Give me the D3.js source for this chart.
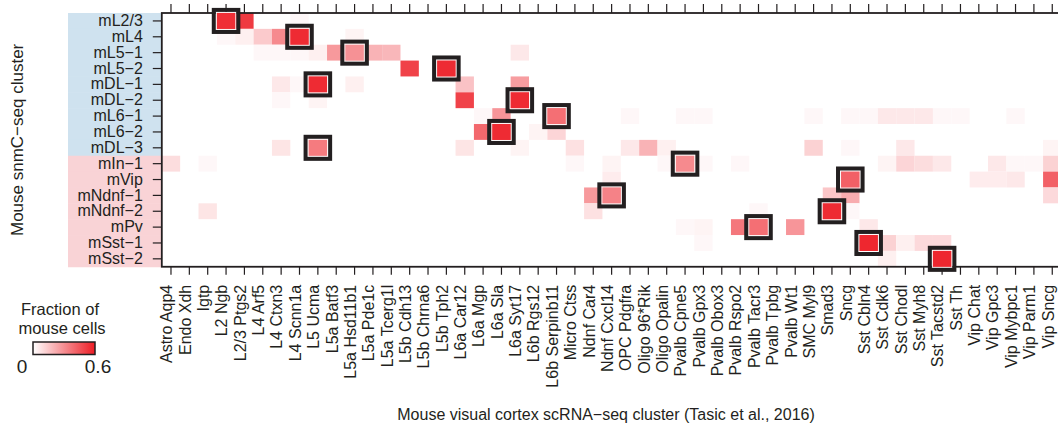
<!DOCTYPE html>
<html>
<head>
<meta charset="utf-8">
<script src="https://cdn.jsdelivr.net/npm/d3@7"></script>
<style>
  body { margin: 0; background: #fff; }
  text { font-family: "Liberation Sans", Arial, Helvetica, sans-serif; fill: #231f20; }
</style>
</head>
<body>
<div id="heatmap"></div>
<script>
// mouse snmC-seq clusters (rows)
const rowNames = ["mL2/3", "mL4", "mL5\u22121", "mL5\u22122", "mDL\u22121", "mDL\u22122", "mL6\u22121", "mL6\u22122", "mDL\u22123",
  "mIn\u22121", "mVip", "mNdnf\u22121", "mNdnf\u22122", "mPv", "mSst\u22121", "mSst\u22122"];
// first 9 rows are excitatory (blue), rest inhibitory (pink)
const excitatoryRows = ["mL2/3", "mL4", "mL5\u22121", "mL5\u22122", "mDL\u22121", "mDL\u22122", "mL6\u22121", "mL6\u22122", "mDL\u22123"];

// scRNA-seq clusters (columns)
const colNames = ["Astro Aqp4", "Endo Xdh", "Igtp", "L2 Ngb", "L2/3 Ptgs2", "L4 Arf5", "L4 Ctxn3", "L4 Scnn1a",
  "L5 Ucma", "L5a Batf3", "L5a Hsd11b1", "L5a Pde1c", "L5a Tcerg1l", "L5b Cdh13", "L5b Chrna6", "L5b Tph2",
  "L6a Car12", "L6a Mgp", "L6a Sla", "L6a Syt17", "L6b Rgs12", "L6b Serpinb11", "Micro Ctss", "Ndnf Car4",
  "Ndnf Cxcl14", "OPC Pdgfra", "Oligo 96*Rik", "Oligo Opalin", "Pvalb Cpne5", "Pvalb Gpx3", "Pvalb Obox3",
  "Pvalb Rspo2", "Pvalb Tacr3", "Pvalb Tpbg", "Pvalb Wt1", "SMC Myl9", "Smad3", "Sncg", "Sst Cbln4", "Sst Cdk6",
  "Sst Chodl", "Sst Myh8", "Sst Tacstd2", "Sst Th", "Vip Chat", "Vip Gpc3", "Vip Mybpc1", "Vip Parm1", "Vip Sncg"];

// non-zero fractions [row, column, value]
const cellValues = [
  ["mL2/3", "L2 Ngb", 0.55], ["mL2/3", "L2/3 Ptgs2", 0.52], ["mL2/3", "L4 Scnn1a", 0.02],
  ["mL4", "L2 Ngb", 0.02], ["mL4", "L2/3 Ptgs2", 0.04], ["mL4", "L4 Arf5", 0.14], ["mL4", "L4 Ctxn3", 0.31],
  ["mL4", "L4 Scnn1a", 0.56], ["mL4", "L5a Hsd11b1", 0.03],
  ["mL5\u22121", "L4 Arf5", 0.02], ["mL5\u22121", "L4 Ctxn3", 0.02], ["mL5\u22121", "L4 Scnn1a", 0.02],
  ["mL5\u22121", "L5 Ucma", 0.04], ["mL5\u22121", "L5a Batf3", 0.27], ["mL5\u22121", "L5a Hsd11b1", 0.29],
  ["mL5\u22121", "L5a Pde1c", 0.2], ["mL5\u22121", "L5a Tcerg1l", 0.19], ["mL5\u22121", "L6a Syt17", 0.06],
  ["mL5\u22122", "L5b Cdh13", 0.5], ["mL5\u22122", "L5b Tph2", 0.56],
  ["mDL\u22121", "L4 Ctxn3", 0.06], ["mDL\u22121", "L4 Scnn1a", 0.02], ["mDL\u22121", "L5 Ucma", 0.56],
  ["mDL\u22121", "L5a Hsd11b1", 0.04], ["mDL\u22121", "L6a Car12", 0.16], ["mDL\u22121", "L6a Syt17", 0.26],
  ["mDL\u22122", "L4 Ctxn3", 0.02], ["mDL\u22122", "L5 Ucma", 0.03], ["mDL\u22122", "L6a Car12", 0.5],
  ["mDL\u22122", "L6a Syt17", 0.56],
  ["mL6\u22121", "L6a Mgp", 0.02], ["mL6\u22121", "L6a Sla", 0.28], ["mL6\u22121", "L6b Serpinb11", 0.38],
  ["mL6\u22121", "OPC Pdgfra", 0.02], ["mL6\u22121", "Pvalb Cpne5", 0.02], ["mL6\u22121", "Pvalb Gpx3", 0.02],
  ["mL6\u22121", "SMC Myl9", 0.02], ["mL6\u22121", "Sncg", 0.02], ["mL6\u22121", "Sst Cbln4", 0.02],
  ["mL6\u22121", "Sst Cdk6", 0.06], ["mL6\u22121", "Sst Chodl", 0.06], ["mL6\u22121", "Sst Myh8", 0.06],
  ["mL6\u22121", "Sst Tacstd2", 0.02], ["mL6\u22121", "Sst Th", 0.02], ["mL6\u22121", "Vip Mybpc1", 0.02],
  ["mL6\u22122", "L6a Mgp", 0.4], ["mL6\u22122", "L6a Sla", 0.56], ["mL6\u22122", "L6b Rgs12", 0.03],
  ["mL6\u22122", "L6b Serpinb11", 0.11],
  ["mDL\u22123", "L4 Ctxn3", 0.07], ["mDL\u22123", "L5 Ucma", 0.35], ["mDL\u22123", "L6a Car12", 0.07],
  ["mDL\u22123", "L6a Syt17", 0.03], ["mDL\u22123", "Micro Ctss", 0.08], ["mDL\u22123", "OPC Pdgfra", 0.06],
  ["mDL\u22123", "Oligo 96*Rik", 0.2], ["mDL\u22123", "Oligo Opalin", 0.04], ["mDL\u22123", "SMC Myl9", 0.12],
  ["mDL\u22123", "Sncg", 0.02], ["mDL\u22123", "Sst Chodl", 0.06], ["mDL\u22123", "Vip Sncg", 0.03],
  ["mIn\u22121", "Astro Aqp4", 0.09], ["mIn\u22121", "Igtp", 0.02], ["mIn\u22121", "Micro Ctss", 0.02],
  ["mIn\u22121", "Ndnf Cxcl14", 0.03], ["mIn\u22121", "Oligo Opalin", 0.02], ["mIn\u22121", "Pvalb Cpne5", 0.31],
  ["mIn\u22121", "Pvalb Gpx3", 0.02], ["mIn\u22121", "Pvalb Rspo2", 0.02], ["mIn\u22121", "Sst Cdk6", 0.03],
  ["mIn\u22121", "Sst Chodl", 0.11], ["mIn\u22121", "Sst Myh8", 0.09], ["mIn\u22121", "Sst Tacstd2", 0.06],
  ["mIn\u22121", "Vip Gpc3", 0.06], ["mIn\u22121", "Vip Mybpc1", 0.02], ["mIn\u22121", "Vip Parm1", 0.02],
  ["mIn\u22121", "Vip Sncg", 0.12],
  ["mVip", "Ndnf Cxcl14", 0.05], ["mVip", "Sncg", 0.42], ["mVip", "Vip Chat", 0.05], ["mVip", "Vip Gpc3", 0.05],
  ["mVip", "Vip Mybpc1", 0.06], ["mVip", "Vip Sncg", 0.42],
  ["mNdnf\u22121", "Ndnf Car4", 0.27], ["mNdnf\u22121", "Ndnf Cxcl14", 0.33], ["mNdnf\u22121", "Smad3", 0.15],
  ["mNdnf\u22121", "Sncg", 0.22], ["mNdnf\u22121", "Vip Sncg", 0.1],
  ["mNdnf\u22122", "Igtp", 0.07], ["mNdnf\u22122", "Ndnf Car4", 0.08], ["mNdnf\u22122", "Pvalb Tacr3", 0.02],
  ["mNdnf\u22122", "Smad3", 0.56], ["mNdnf\u22122", "Sncg", 0.02],
  ["mPv", "Pvalb Cpne5", 0.02], ["mPv", "Pvalb Gpx3", 0.03], ["mPv", "Pvalb Rspo2", 0.36],
  ["mPv", "Pvalb Tacr3", 0.38], ["mPv", "Pvalb Wt1", 0.28], ["mPv", "Sst Cbln4", 0.06],
  ["mSst\u22121", "Pvalb Gpx3", 0.02], ["mSst\u22121", "Sst Cbln4", 0.57], ["mSst\u22121", "Sst Cdk6", 0.12],
  ["mSst\u22121", "Sst Chodl", 0.04], ["mSst\u22121", "Sst Myh8", 0.1], ["mSst\u22121", "Sst Tacstd2", 0.1],
  ["mSst\u22122", "Sst Cdk6", 0.04], ["mSst\u22122", "Sst Tacstd2", 0.57]
];

// boxed cells: best matching scRNA-seq cluster for each row
const bestMatch = [
  ["mL2/3", "L2 Ngb"], ["mL4", "L4 Scnn1a"], ["mL5\u22121", "L5a Hsd11b1"], ["mL5\u22122", "L5b Tph2"],
  ["mDL\u22121", "L5 Ucma"], ["mDL\u22122", "L6a Syt17"], ["mL6\u22121", "L6b Serpinb11"], ["mL6\u22122", "L6a Sla"],
  ["mDL\u22123", "L5 Ucma"], ["mIn\u22121", "Pvalb Cpne5"], ["mVip", "Sncg"], ["mNdnf\u22121", "Ndnf Cxcl14"],
  ["mNdnf\u22122", "Smad3"], ["mPv", "Pvalb Tacr3"], ["mSst\u22121", "Sst Cbln4"], ["mSst\u22122", "Sst Tacstd2"]
];

const legendTicks = ["0", "0.6"];

let width = 1058, height = 425;
let plotLeft = 161.8, plotTop = 13, cellW = 18.36, cellH = 15.86;
let plotRight = plotLeft + cellW * colNames.length,
    plotBottom = plotTop + cellH * rowNames.length;

let x = d3.scaleBand().domain(colNames).range([plotLeft, plotRight]);
let y = d3.scaleBand().domain(rowNames).range([plotTop, plotBottom]);
let color = d3.scaleLinear().domain([0, 0.6]).range(["#ffffff", "#ed1c24"]).clamp(true);

let svg = d3.select("#heatmap").append("svg")
    .attr("width", width)
    .attr("height", height);

// coloured band behind the row labels
svg.append("g").selectAll("rect")
    .data(rowNames)
  .enter().append("rect")
    .attr("x", 68)
    .attr("y", d => y(d))
    .attr("width", plotLeft - 68)
    .attr("height", y.bandwidth() + 0.5)
    .attr("fill", d => excitatoryRows.includes(d) ? "#cfe2ef" : "#f9d3d6");

svg.append("rect")
    .attr("x", plotLeft).attr("y", plotTop)
    .attr("width", plotRight - plotLeft).attr("height", plotBottom - plotTop)
    .attr("fill", "#fff");

// cells
svg.append("g").selectAll("rect")
    .data(cellValues)
  .enter().append("rect")
    .attr("x", d => x(d[1]))
    .attr("y", d => y(d[0]))
    .attr("width", x.bandwidth())
    .attr("height", y.bandwidth())
    .attr("fill", d => color(d[2]));

// axes
let tickStyle = g => {
  g.select(".domain").remove();
  g.selectAll(".tick line").attr("stroke", "#231f20").attr("stroke-width", 1.2);
};

svg.append("g")
    .attr("transform", "translate(" + plotLeft + ",0)")
    .call(d3.axisLeft(y).tickSize(9).tickPadding(10))
    .call(tickStyle)
    .selectAll("text")
    .attr("font-size", "16px")
    .attr("font-family", null);

svg.append("g")
    .attr("transform", "translate(0," + plotTop + ")")
    .call(d3.axisTop(x).tickSize(9).tickFormat(""))
    .call(tickStyle);

svg.append("g")
    .attr("transform", "translate(0," + plotBottom + ")")
    .call(d3.axisBottom(x).tickSize(8))
    .call(tickStyle)
    .selectAll("text")
    .attr("font-size", "16px")
    .attr("font-family", null)
    .attr("y", 0)
    .attr("x", -18)
    .attr("dy", "0.08em")
    .attr("transform", "rotate(-90)")
    .style("text-anchor", "end");

// frame
svg.append("rect")
    .attr("x", plotLeft).attr("y", plotTop)
    .attr("width", plotRight - plotLeft).attr("height", plotBottom - plotTop)
    .attr("fill", "none")
    .attr("stroke", "#231f20")
    .attr("stroke-width", 1.8);

// boxed best matches
let boxes = svg.append("g").selectAll("g")
    .data(bestMatch)
  .enter().append("g");

boxes.append("rect")
    .attr("x", d => x(d[1]) - 0.6)
    .attr("y", d => y(d[0]) - 0.6)
    .attr("width", x.bandwidth() + 1.2)
    .attr("height", y.bandwidth() + 1.2)
    .attr("fill", d => color(cellValues.find(c => c[0] == d[0] && c[1] == d[1])[2]))
    .attr("stroke", "#fff")
    .attr("stroke-width", 1);

boxes.append("rect")
    .attr("x", d => x(d[1]) - 3.1)
    .attr("y", d => y(d[0]) - 3.1)
    .attr("width", x.bandwidth() + 6.2)
    .attr("height", y.bandwidth() + 6.2)
    .attr("fill", "none")
    .attr("stroke", "#231f20")
    .attr("stroke-width", 4);

// axis titles
svg.append("text")
    .attr("transform", "translate(23," + (plotTop + plotBottom) / 2 + ") rotate(-90)")
    .attr("text-anchor", "middle")
    .attr("font-size", "17px")
    .text("Mouse snmC\u2212seq cluster");

svg.append("text")
    .attr("x", 606)
    .attr("y", 420)
    .attr("text-anchor", "middle")
    .attr("font-size", "16px")
    .text("Mouse visual cortex scRNA\u2212seq cluster (Tasic et al., 2016)");

// legend
let grad = svg.append("defs").append("linearGradient").attr("id", "legendGrad");
grad.append("stop").attr("offset", "0%").attr("stop-color", color(0));
grad.append("stop").attr("offset", "100%").attr("stop-color", color(0.6));

svg.append("text").attr("x", 60).attr("y", 315).attr("text-anchor", "middle")
    .attr("font-size", "16.5px").text("Fraction of");
svg.append("text").attr("x", 62).attr("y", 334).attr("text-anchor", "middle")
    .attr("font-size", "16.5px").text("mouse cells");

svg.append("rect")
    .attr("x", 33).attr("y", 342)
    .attr("width", 62).attr("height", 12.5)
    .attr("fill", "url(#legendGrad)")
    .attr("stroke", "#231f20")
    .attr("stroke-width", 1.5);

let legendX = d3.scalePoint().domain(legendTicks).range([22, 98]);
svg.append("g").selectAll("text")
    .data(legendTicks)
  .enter().append("text")
    .attr("x", d => legendX(d))
    .attr("y", 373)
    .attr("text-anchor", "middle")
    .attr("font-size", "19px")
    .text(d => d);
</script>
</body>
</html>
